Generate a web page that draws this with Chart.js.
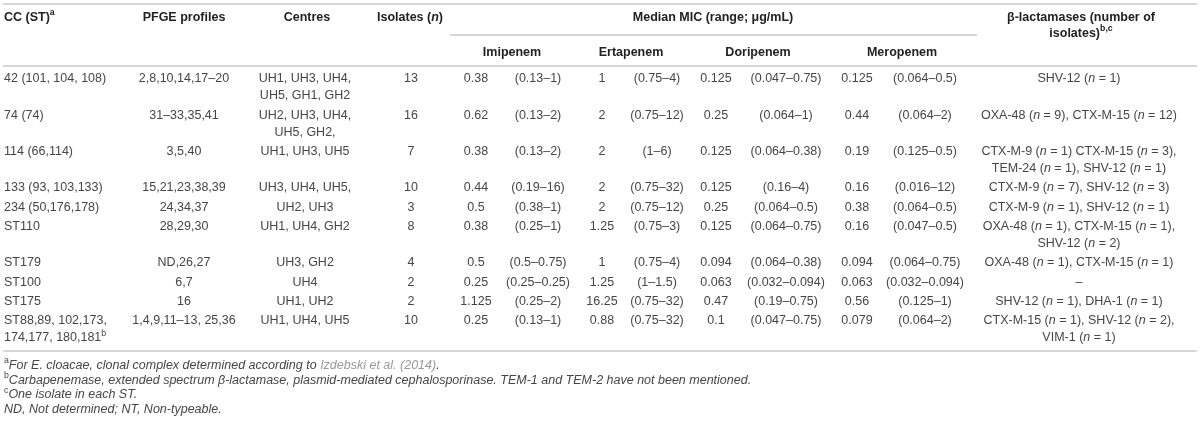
<!DOCTYPE html>
<html>
<head>
<meta charset="utf-8">
<script src="https://cdn.jsdelivr.net/npm/chart.js@4.4.1/dist/chart.umd.min.js"></script>
<style>
  html, body { margin: 0; padding: 0; background: #ffffff; }
  #wrap { width: 1200px; height: 423px; position: relative; }
</style>
</head>
<body>
<div id="wrap"><canvas id="c"></canvas></div>
<script>
// ---------------- DATA ----------------
const ccST = ['42 (101, 104, 108)', '74 (74)', '114 (66,114)', '133 (93, 103,133)', '234 (50,176,178)',
  'ST110', 'ST179', 'ST100', 'ST175', 'ST88,89, 102,173,\n174,177, 180,181^b^'];
const pfgeProfiles = ['2,8,10,14,17–20', '31–33,35,41', '3,5,40', '15,21,23,38,39', '24,34,37',
  '28,29,30', 'ND,26,27', '6,7', '16', '1,4,9,11–13, 25,36'];
const centres = ['UH1, UH3, UH4,\nUH5, GH1, GH2', 'UH2, UH3, UH4,\nUH5, GH2,', 'UH1, UH3, UH5', 'UH3, UH4, UH5,',
  'UH2, UH3', 'UH1, UH4, GH2', 'UH3, GH2', 'UH4', 'UH1, UH2', 'UH1, UH4, UH5'];
const isolates = [13, 16, 7, 10, 3, 8, 4, 2, 2, 10];
const imipenemMedian = ['0.38', '0.62', '0.38', '0.44', '0.5', '0.38', '0.5', '0.25', '1.125', '0.25'];
const imipenemRange = ['(0.13–1)', '(0.13–2)', '(0.13–2)', '(0.19–16)', '(0.38–1)', '(0.25–1)', '(0.5–0.75)', '(0.25–0.25)', '(0.25–2)', '(0.13–1)'];
const ertapenemMedian = ['1', '2', '2', '2', '2', '1.25', '1', '1.25', '16.25', '0.88'];
const ertapenemRange = ['(0.75–4)', '(0.75–12)', '(1–6)', '(0.75–32)', '(0.75–12)', '(0.75–3)', '(0.75–4)', '(1–1.5)', '(0.75–32)', '(0.75–32)'];
const doripenemMedian = ['0.125', '0.25', '0.125', '0.125', '0.25', '0.125', '0.094', '0.063', '0.47', '0.1'];
const doripenemRange = ['(0.047–0.75)', '(0.064–1)', '(0.064–0.38)', '(0.16–4)', '(0.064–0.5)', '(0.064–0.75)', '(0.064–0.38)', '(0.032–0.094)', '(0.19–0.75)', '(0.047–0.75)'];
const meropenemMedian = ['0.125', '0.44', '0.19', '0.16', '0.38', '0.16', '0.094', '0.063', '0.56', '0.079'];
const meropenemRange = ['(0.064–0.5)', '(0.064–2)', '(0.125–0.5)', '(0.016–12)', '(0.064–0.5)', '(0.047–0.5)', '(0.064–0.75)', '(0.032–0.094)', '(0.125–1)', '(0.064–2)'];
const betaLactamases = [
  'SHV-12 (_n_ = 1)',
  'OXA-48 (_n_ = 9), CTX-M-15 (_n_ = 12)',
  'CTX-M-9 (_n_ = 1) CTX-M-15 (_n_ = 3),\nTEM-24 (_n_ = 1), SHV-12 (_n_ = 1)',
  'CTX-M-9 (_n_ = 7), SHV-12 (_n_ = 3)',
  'CTX-M-9 (_n_ = 1), SHV-12 (_n_ = 1)',
  'OXA-48 (_n_ = 1), CTX-M-15 (_n_ = 1),\nSHV-12 (_n_ = 2)',
  'OXA-48 (_n_ = 1), CTX-M-15 (_n_ = 1)',
  '–',
  'SHV-12 (_n_ = 1), DHA-1 (_n_ = 1)',
  'CTX-M-15 (_n_ = 1), SHV-12 (_n_ = 2),\nVIM-1 (_n_ = 1)'
];
const headerLabels = ['CC (ST)^a^', 'PFGE profiles', 'Centres', 'Isolates (_n_)', 'Median MIC (range; μg/mL)', 'β-lactamases (number of\nisolates)^b,c^'];
const drugLabels = ['Imipenem', 'Ertapenem', 'Doripenem', 'Meropenem'];
const footnotes = [
  '^a^For E. cloacae, clonal complex determined according to {Izdebski et al. (2014)}.',
  '^b^Carbapenemase, extended spectrum β-lactamase, plasmid-mediated cephalosporinase. TEM-1 and TEM-2 have not been mentioned.',
  '^c^One isolate in each ST.',
  'ND, Not determined; NT, Non-typeable.'
];

// ---------------- LAYOUT ----------------
const FAMILY = '"Liberation Sans", Arial, Helvetica, sans-serif';
const colX = { cc: 4, pfge: 184, centres: 305, isolates: 411, imiMed: 476, imiRange: 538, ertMed: 602, ertRange: 657,
  dorMed: 716, dorRange: 786, merMed: 857, merRange: 925, beta: 1079 };
const headerX = [4, 184, 307, 410, 713, 1081];
const headerAlign = ['left', 'center', 'center', 'center', 'center', 'center'];
const drugX = [512, 631, 758, 902];
const headerY1 = 17.5, headerLineH = 16, drugY = 52.5;
const firstRowY = 79, lineH = 17, rowGap = 2.3;
const footY0 = 365.5, footLineH = 14.6;
const rules = [
  { x0: 3, x1: 1197, y: 4 },
  { x0: 450, x1: 977, y: 35 },
  { x0: 3, x1: 1197, y: 66 },
  { x0: 3, x1: 1197, y: 351 }
];

const bodyColumns = [
  ['cc', ccST, 'left'], ['pfge', pfgeProfiles, 'center'], ['centres', centres, 'center'],
  ['isolates', isolates.map(String), 'center'],
  ['imiMed', imipenemMedian, 'center'], ['imiRange', imipenemRange, 'center'],
  ['ertMed', ertapenemMedian, 'center'], ['ertRange', ertapenemRange, 'center'],
  ['dorMed', doripenemMedian, 'center'], ['dorRange', doripenemRange, 'center'],
  ['merMed', meropenemMedian, 'center'], ['merRange', meropenemRange, 'center'],
  ['beta', betaLactamases, 'center']
];

// row positions derived from the number of lines in each row
const nRows = ccST.length;
const rowY = [];
{
  let y = firstRowY;
  for (let r = 0; r < nRows; r++) {
    rowY.push(y);
    const lines = Math.max(...bodyColumns.map(c => String(c[1][r]).split('\n').length));
    y += lines * lineH + rowGap;
  }
}

const bodyPoints = [];
bodyColumns.forEach(([key, arr, align]) => {
  arr.forEach((cell, r) => {
    String(cell).split('\n').forEach((line, k) => {
      bodyPoints.push({ x: colX[key], y: rowY[r] + k * lineH, t: line, a: align });
    });
  });
});

const headerPoints = [];
headerLabels.forEach((lab, i) => {
  lab.split('\n').forEach((line, k) => {
    headerPoints.push({ x: headerX[i], y: headerY1 + k * headerLineH, t: line, a: headerAlign[i] });
  });
});
drugLabels.forEach((lab, i) => headerPoints.push({ x: drugX[i], y: drugY, t: lab, a: 'center' }));

const footPoints = footnotes.map((f, i) => ({ x: 4, y: footY0 + i * footLineH, t: f, a: 'left' }));

// ---------------- RICH TEXT ----------------
function parseRuns(s) {
  const runs = []; let cur = '', it = false, sup = false, link = false;
  const push = () => { if (cur) { runs.push({ t: cur, it, sup, link }); cur = ''; } };
  for (const ch of s) {
    if (ch === '_') { push(); it = !it; }
    else if (ch === '^') { push(); sup = !sup; }
    else if (ch === '{') { push(); link = true; }
    else if (ch === '}') { push(); link = false; }
    else cur += ch;
  }
  push();
  return runs;
}
function runFont(st, run) {
  let isItalic = st.italic ? !run.it : run.it;
  if (run.sup) isItalic = false;
  const size = run.sup ? st.size * 0.7 : st.size;
  return (isItalic ? 'italic ' : '') + st.weight + ' ' + size + 'px ' + FAMILY;
}
function drawRich(ctx, text, x, y, align, st) {
  const runs = parseRuns(text);
  let total = 0;
  runs.forEach(r => { ctx.font = runFont(st, r); r.w = ctx.measureText(r.t).width; total += r.w; });
  let cx = align === 'center' ? x - total / 2 : (align === 'right' ? x - total : x);
  runs.forEach(r => {
    ctx.font = runFont(st, r);
    ctx.fillStyle = r.link ? st.linkColor : st.color;
    ctx.fillText(r.t, cx, r.sup ? y - st.size * 0.36 : y);
    cx += r.w;
  });
}

const textPlugin = {
  id: 'cellText',
  afterDatasetsDraw(chart) {
    const ctx = chart.ctx;
    ctx.save();
    ctx.textBaseline = 'middle';
    ctx.textAlign = 'left';
    chart.data.datasets.forEach((ds, i) => {
      if (!ds.textStyle) return;
      const meta = chart.getDatasetMeta(i);
      meta.data.forEach((el, j) => {
        const p = ds.data[j];
        drawRich(ctx, p.t, el.x, el.y, p.a, ds.textStyle);
      });
    });
    ctx.restore();
  }
};

const ruleDatasets = rules.map(r => ({
  type: 'line',
  data: [{ x: r.x0, y: r.y }, { x: r.x1, y: r.y }],
  borderColor: '#c9c9c9', borderWidth: 1.6, pointRadius: 0, showLine: true, fill: false
}));

const textDs = (data, style) => ({
  type: 'scatter', data, pointRadius: 0, pointHoverRadius: 0, textStyle: style
});

new Chart(document.getElementById('c'), {
  type: 'scatter',
  data: {
    datasets: [
      ...ruleDatasets,
      textDs(bodyPoints, { size: 12.5, weight: 'normal', italic: false, color: '#464646', linkColor: '#999' }),
      textDs(headerPoints, { size: 12.5, weight: 'bold', italic: false, color: '#222222', linkColor: '#999' }),
      textDs(footPoints, { size: 12.5, weight: 'normal', italic: true, color: '#464646', linkColor: '#9a9a9a' })
    ]
  },
  options: {
    responsive: true,
    maintainAspectRatio: false,
    animation: false,
    layout: { padding: 0 },
    plugins: { legend: { display: false }, tooltip: { enabled: false } },
    events: [],
    scales: {
      x: { type: 'linear', min: 0, max: 1200, display: false },
      y: { type: 'linear', min: 0, max: 423, reverse: true, display: false }
    }
  },
  plugins: [textPlugin]
});
</script>
</body>
</html>
